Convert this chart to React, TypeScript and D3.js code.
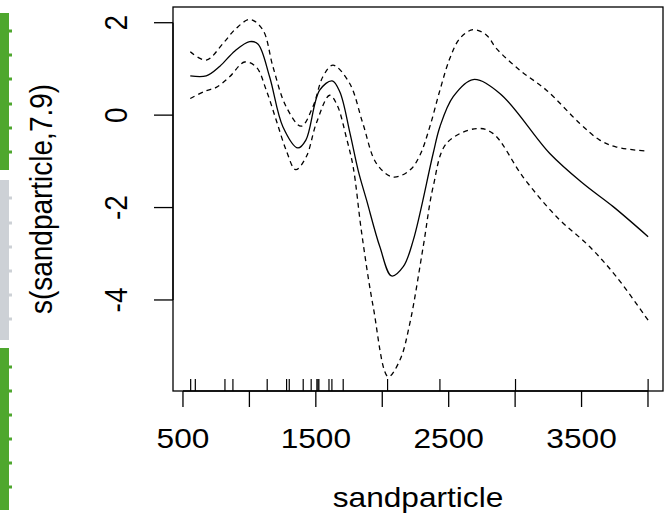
import React from "react";
import * as d3 from "d3";

const fitX = [555,675,778,891,1002,1064,1152,1252,1365,1425,1529,1623,1681,1757,1819,1882,1982,2070,2158,2233,2383,2434,2534,2684,2885,3261,3512,3738,4001];
const fitY = [0.85,0.85,1.06,1.39,1.59,1.54,0.83,-0.25,-0.71,-0.54,0.54,0.74,0.50,-0.39,-1.20,-1.84,-2.85,-3.48,-3.28,-2.71,-0.83,-0.25,0.40,0.77,0.47,-0.83,-1.48,-1.98,-2.63];

const upX = [555,675,801,901,1006,1102,1177,1277,1390,1478,1553,1629,1754,1854,1957,2082,2208,2283,2358,2434,2509,2584,2684,2785,2860,3036,3236,3487,3637,3763,3989];
const upY = [1.37,1.19,1.55,1.88,2.07,1.84,1.05,0.18,-0.24,0.18,0.83,1.08,0.69,-0.18,-1.05,-1.34,-1.19,-0.87,-0.25,0.54,1.23,1.66,1.85,1.73,1.44,0.97,0.54,-0.18,-0.54,-0.69,-0.78];

const loX = [555,675,751,851,964,1052,1127,1202,1277,1348,1428,1503,1604,1660,1731,1781,1845,1932,2045,2133,2208,2308,2383,2484,2709,2835,3060,3312,3562,3763,4001];
const loY = [0.36,0.53,0.60,0.83,1.15,1.04,0.54,-0.11,-0.76,-1.18,-0.90,-0.18,0.43,0.22,-0.50,-1.12,-2.55,-4.15,-5.66,-5.30,-4.50,-2.85,-1.55,-0.61,-0.29,-0.40,-1.34,-2.20,-2.85,-3.50,-4.44];

const rugX = [558,593,816,876,1134,1280,1300,1405,1465,1508,1516,1523,1599,1621,1706,2040,2434,3003,4001];

const xTicks = [500,1000,1500,2000,2500,3000,3500,4000];
const xTickLabels = ["500","","1500","","2500","","3500",""];
const yTicks = [-4,-2,0,2];
const yTickLabels = ["-4","-2","0","2"];

const xLabel = "sandparticle";
const yLabel = "s(sandparticle,7.9)";

const W = 671, H = 516;
const L = 173, R = 663, T = 7, B = 391;
const FONT = "'Liberation Sans', Arial, Helvetica, sans-serif";
const FS = 28;
const SX = 1.13;

export default function App() {
  const x = d3.scaleLinear().domain([425, 4113]).range([L, R]);
  const y = d3.scaleLinear().domain([-5.97, 2.34]).range([B, T]);
  const mk = (xs: number[], ys: number[]) =>
    d3.line<number>().x((_, i) => x(xs[i])).y((d) => y(d)).curve(d3.curveCatmullRom.alpha(0.5))(ys) || "";

  const greenBars = [
    { y0: 13, y1: 170, c: "#4ea72e", notches: [31, 55, 79, 104, 128, 152] },
    { y0: 180, y1: 340, c: "#cdd1d6", notches: [198, 223, 247, 271, 295, 319] },
    { y0: 348, y1: 510, c: "#4ea72e", notches: [367, 391, 415, 439, 463, 487] },
  ];

  return (
    <svg width={W} height={H} style={{ position: "absolute", left: 0, top: 0, background: "#fff" }}>
      <rect x={0} y={0} width={W} height={H} fill="#fff" />
      {greenBars.map((b, i) => (
        <g key={i}>
          <rect x={0} y={b.y0} width={9} height={b.y1 - b.y0} fill={b.c} />
          {b.notches.map((n, j) => (
            <rect key={j} x={9} y={n - 1.5} width={3} height={3} fill={b.c} />
          ))}
        </g>
      ))}
      <rect x={L} y={T} width={R - L} height={B - T} fill="none" stroke="#000" strokeWidth={1.3} />
      {/* x axis */}
      <line x1={x(xTicks[0])} x2={x(xTicks[xTicks.length - 1])} y1={B} y2={B} stroke="#000" strokeWidth={1.3} />
      {xTicks.map((t, i) => (
        <g key={t}>
          <line x1={x(t)} x2={x(t)} y1={B} y2={B + 16} stroke="#000" strokeWidth={1.3} />
          {xTickLabels[i] && (
            <text transform={`translate(${x(t)},448) scale(${SX},1)`} textAnchor="middle" fontFamily={FONT} fontSize={FS} fill="#000">
              {xTickLabels[i]}
            </text>
          )}
        </g>
      ))}
      {/* y axis */}
      <line x1={L} x2={L} y1={y(yTicks[0])} y2={y(yTicks[yTicks.length - 1])} stroke="#000" strokeWidth={1.3} />
      {yTicks.map((t, i) => (
        <g key={t}>
          <line x1={L - 19} x2={L} y1={y(t)} y2={y(t)} stroke="#000" strokeWidth={1.3} />
          <text transform={`translate(127,${y(t)}) scale(${SX},1) rotate(-90)`} textAnchor="middle" fontFamily={FONT} fontSize={FS} fill="#000">
            {yTickLabels[i]}
          </text>
        </g>
      ))}
      <text transform={`translate(${(L + R) / 2},507) scale(${SX},1)`} textAnchor="middle" fontFamily={FONT} fontSize={FS} fill="#000">
        {xLabel}
      </text>
      <text transform={`translate(52,${(T + B) / 2}) scale(${SX},1) rotate(-90)`} textAnchor="middle" fontFamily={FONT} fontSize={FS} fill="#000">
        {yLabel}
      </text>
      {/* rug */}
      {rugX.map((r, i) => (
        <line key={i} x1={x(r)} x2={x(r)} y1={B - 12} y2={B} stroke="#000" strokeWidth={1.2} />
      ))}
      <path d={mk(fitX, fitY)} fill="none" stroke="#000" strokeWidth={1.3} />
      <path d={mk(upX, upY)} fill="none" stroke="#000" strokeWidth={1.3} strokeDasharray="5,4" />
      <path d={mk(loX, loY)} fill="none" stroke="#000" strokeWidth={1.3} strokeDasharray="5,4" />
    </svg>
  );
}
